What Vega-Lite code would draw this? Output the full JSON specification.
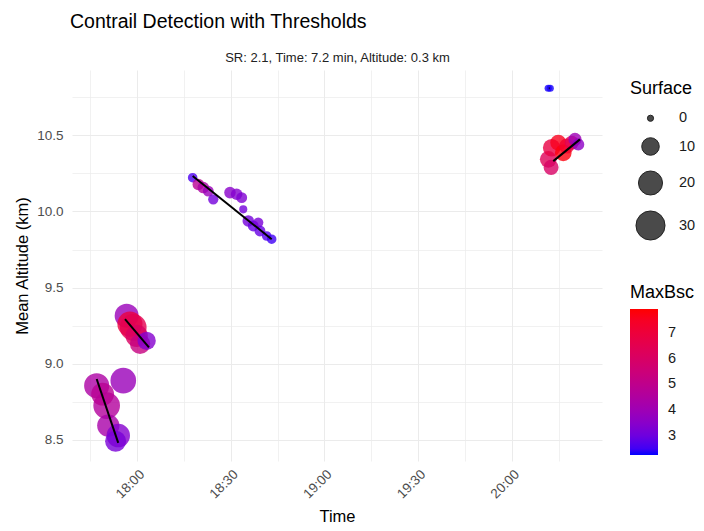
{
  "$schema": "https://vega.github.io/schema/vega-lite/v6.json",
  "width": 530,
  "height": 391,
  "autosize": "none",
  "padding": {"left": 72, "top": 70, "right": 102, "bottom": 70},
  "background": "white",
  "title": {"text": "Contrail Detection with Thresholds", "anchor": "start", "frame": "group", "font": "Liberation Sans", "fontSize": 19.5, "fontWeight": "normal", "color": "black", "offset": 19, "dx": -2},
  "config": {"font": "Liberation Sans", "view": {"stroke": null}},
  "datasets": {
    "points": [
      {"t": "2024-01-01T17:47:06", "alt": 8.855, "surface": 22, "maxbsc": 4.4},
      {"t": "2024-01-01T17:55:37", "alt": 8.888, "surface": 23, "maxbsc": 3.9},
      {"t": "2024-01-01T17:50:18", "alt": 8.724, "surface": 25, "maxbsc": 4.6},
      {"t": "2024-01-01T17:49:00", "alt": 8.8, "surface": 18, "maxbsc": 4.8},
      {"t": "2024-01-01T17:50:49", "alt": 8.593, "surface": 17, "maxbsc": 4.3},
      {"t": "2024-01-01T17:54:01", "alt": 8.527, "surface": 19, "maxbsc": 3.4},
      {"t": "2024-01-01T17:53:10", "alt": 8.49, "surface": 15, "maxbsc": 3.2},
      {"t": "2024-01-01T17:56:42", "alt": 9.314, "surface": 20, "maxbsc": 3.9},
      {"t": "2024-01-01T17:57:45", "alt": 9.26, "surface": 22, "maxbsc": 6.9},
      {"t": "2024-01-01T17:58:49", "alt": 9.238, "surface": 25, "maxbsc": 6.5},
      {"t": "2024-01-01T17:59:54", "alt": 9.183, "surface": 17, "maxbsc": 6.1},
      {"t": "2024-01-01T18:01:00", "alt": 9.13, "surface": 14, "maxbsc": 5.3},
      {"t": "2024-01-01T18:03:06", "alt": 9.15, "surface": 11, "maxbsc": 3.4},
      {"t": "2024-01-01T18:17:50", "alt": 10.222, "surface": 2, "maxbsc": 2.6},
      {"t": "2024-01-01T18:19:38", "alt": 10.178, "surface": 3.5, "maxbsc": 4.8},
      {"t": "2024-01-01T18:21:14", "alt": 10.157, "surface": 3.5, "maxbsc": 4.4},
      {"t": "2024-01-01T18:22:50", "alt": 10.134, "surface": 3, "maxbsc": 3.9},
      {"t": "2024-01-01T18:24:26", "alt": 10.08, "surface": 2.5, "maxbsc": 3.1},
      {"t": "2024-01-01T18:29:47", "alt": 10.124, "surface": 3.5, "maxbsc": 3.5},
      {"t": "2024-01-01T18:31:55", "alt": 10.113, "surface": 3.5, "maxbsc": 3.4},
      {"t": "2024-01-01T18:33:32", "alt": 10.091, "surface": 3, "maxbsc": 3.3},
      {"t": "2024-01-01T18:34:02", "alt": 10.014, "surface": 1, "maxbsc": 3.1},
      {"t": "2024-01-01T18:35:38", "alt": 9.938, "surface": 3.5, "maxbsc": 3.1},
      {"t": "2024-01-01T18:37:14", "alt": 9.905, "surface": 3, "maxbsc": 2.9},
      {"t": "2024-01-01T18:38:50", "alt": 9.927, "surface": 2.5, "maxbsc": 3.2},
      {"t": "2024-01-01T18:39:23", "alt": 9.872, "surface": 3, "maxbsc": 2.9},
      {"t": "2024-01-01T18:41:32", "alt": 9.839, "surface": 2, "maxbsc": 2.7},
      {"t": "2024-01-01T18:43:08", "alt": 9.818, "surface": 2, "maxbsc": 2.5},
      {"t": "2024-01-01T20:11:40", "alt": 10.81, "surface": 0.5, "maxbsc": 2.3},
      {"t": "2024-01-01T20:12:20", "alt": 10.81, "surface": 0.5, "maxbsc": 2.3},
      {"t": "2024-01-01T20:11:42", "alt": 10.343, "surface": 9, "maxbsc": 6.3},
      {"t": "2024-01-01T20:12:36", "alt": 10.29, "surface": 7, "maxbsc": 6.0},
      {"t": "2024-01-01T20:12:47", "alt": 10.419, "surface": 10, "maxbsc": 6.8},
      {"t": "2024-01-01T20:14:54", "alt": 10.452, "surface": 8, "maxbsc": 7.6},
      {"t": "2024-01-01T20:16:30", "alt": 10.386, "surface": 9, "maxbsc": 7.8},
      {"t": "2024-01-01T20:17:35", "alt": 10.43, "surface": 7, "maxbsc": 7.3},
      {"t": "2024-01-01T20:19:12", "alt": 10.452, "surface": 6, "maxbsc": 6.5},
      {"t": "2024-01-01T20:20:15", "alt": 10.474, "surface": 5, "maxbsc": 4.0},
      {"t": "2024-01-01T20:21:18", "alt": 10.441, "surface": 4, "maxbsc": 3.6}
    ],
    "lines": [
      {"g": "a", "t": "2024-01-01T17:47:06", "alt": 8.899},
      {"g": "a", "t": "2024-01-01T17:54:00", "alt": 8.479},
      {"g": "b", "t": "2024-01-01T17:56:10", "alt": 9.293},
      {"g": "b", "t": "2024-01-01T18:03:50", "alt": 9.107},
      {"g": "c", "t": "2024-01-01T18:17:50", "alt": 10.233},
      {"g": "c", "t": "2024-01-01T18:43:08", "alt": 9.818},
      {"g": "d", "t": "2024-01-01T20:13:18", "alt": 10.331},
      {"g": "d", "t": "2024-01-01T20:21:50", "alt": 10.474},
      {"g": "e", "t": "2024-01-01T20:11:52", "alt": 10.81},
      {"g": "e", "t": "2024-01-01T20:12:08", "alt": 10.81}
    ]
  },
  "layer": [
    {
      "data": {"name": "points"},
      "mark": {"type": "circle", "fillOpacity": 0.8, "strokeWidth": 0},
      "encoding": {
        "x": {
          "field": "t", "type": "temporal",
          "scale": {"domain": [{"year": 2024, "month": 1, "date": 1, "hours": 17, "minutes": 39, "seconds": 12}, {"year": 2024, "month": 1, "date": 1, "hours": 20, "minutes": 28, "seconds": 54}], "nice": false},
          "axis": {
            "values": [
              {"year": 2024, "month": 1, "date": 1, "hours": 17, "minutes": 45},
              {"year": 2024, "month": 1, "date": 1, "hours": 18, "minutes": 0},
              {"year": 2024, "month": 1, "date": 1, "hours": 18, "minutes": 15},
              {"year": 2024, "month": 1, "date": 1, "hours": 18, "minutes": 30},
              {"year": 2024, "month": 1, "date": 1, "hours": 18, "minutes": 45},
              {"year": 2024, "month": 1, "date": 1, "hours": 19, "minutes": 0},
              {"year": 2024, "month": 1, "date": 1, "hours": 19, "minutes": 15},
              {"year": 2024, "month": 1, "date": 1, "hours": 19, "minutes": 30},
              {"year": 2024, "month": 1, "date": 1, "hours": 19, "minutes": 45},
              {"year": 2024, "month": 1, "date": 1, "hours": 20, "minutes": 0},
              {"year": 2024, "month": 1, "date": 1, "hours": 20, "minutes": 15}
            ],
            "labelExpr": "(minutes(datum.value) % 30 == 0) ? timeFormat(datum.value, '%H:%M') : ''",
            "labelAngle": -45, "labelAlign": "right", "labelBaseline": "top",
            "labelOverlap": false, "labelFlush": false, "labelDy": 7,
            "grid": true, "gridColor": "#EBEBEB",
            "gridWidth": {"condition": {"test": "minutes(datum.value) % 30 == 0", "value": 1}, "value": 0.7},
            "ticks": false, "tickSize": 0, "domain": false,
            "labelFontSize": 13.5, "labelColor": "#4D4D4D", "labelPadding": 6,
            "title": "Time", "titleFontSize": 16.5, "titleFontWeight": "normal", "titleColor": "black", "titlePadding": 8
          }
        },
        "y": {
          "field": "alt", "type": "quantitative",
          "scale": {"domain": [8.36, 10.93], "nice": false, "zero": false},
          "axis": {
            "values": [8.5, 8.75, 9, 9.25, 9.5, 9.75, 10, 10.25, 10.5, 10.75],
            "labelExpr": "((datum.value * 2) % 1 == 0) ? format(datum.value, '.1f') : ''",
            "grid": true, "gridColor": "#EBEBEB",
            "gridWidth": {"condition": {"test": "(datum.value * 2) % 1 == 0", "value": 1}, "value": 0.7},
            "ticks": false, "tickSize": 0, "domain": false,
            "labelFontSize": 13.5, "labelColor": "#4D4D4D", "labelPadding": 9,
            "title": "Mean Altitude (km)", "titleFontSize": 16.5, "titleFontWeight": "normal", "titleColor": "black", "titlePadding": 6
          }
        },
        "size": {
          "field": "surface", "type": "quantitative",
          "scale": {"domain": [0, 32], "range": [38, 900]},
          "legend": {
            "title": "Surface", "values": [0, 10, 20, 30],
            "orient": "none", "legendX": 558, "legendY": 10,
            "titleFontSize": 18, "titleFontWeight": "normal", "titleColor": "black",
            "labelFontSize": 14.5, "labelColor": "#1a1a1a",
            "symbolFillColor": "#4a4a4a", "symbolStrokeColor": "#222222", "symbolStrokeWidth": 1, "symbolOpacity": 1,
            "symbolOffset": 5,
            "rowPadding": 10, "labelOffset": 13, "titlePadding": 13
          }
        },
        "color": {
          "field": "maxbsc", "type": "quantitative",
          "scale": {"domain": [2.26, 7.93], "range": ["#0000FF", "#FF0000"], "interpolate": "lab"},
          "legend": {
            "title": "MaxBsc", "values": [3, 4, 5, 6, 7],
            "orient": "none", "legendX": 558, "legendY": 214,
            "direction": "vertical", "gradientLength": 146, "gradientThickness": 28, "gradientStrokeWidth": 0,
            "titleFontSize": 18, "titleFontWeight": "normal", "titleColor": "black",
            "labelFontSize": 14.5, "labelColor": "#1a1a1a", "labelOverlap": false, "labelOffset": 10, "titlePadding": 7,
            "encode": {"gradient": {"opacity": {"value": 1}}}
          }
        }
      }
    },
    {
      "data": {"name": "lines"},
      "mark": {"type": "line", "color": "black", "strokeWidth": 2},
      "encoding": {
        "x": {
          "field": "t", "type": "temporal",
          "axis": {"orient": "top", "title": "SR: 2.1, Time: 7.2 min, Altitude: 0.3 km", "labels": false, "ticks": false, "domain": false, "grid": false, "titleFontSize": 13, "titleFontWeight": "normal", "titleColor": "#222222", "titlePadding": 6}
        },
        "y": {"field": "alt", "type": "quantitative"},
        "detail": {"field": "g"}
      }
    }
  ],
  "resolve": {"axis": {"x": "independent"}}
}
